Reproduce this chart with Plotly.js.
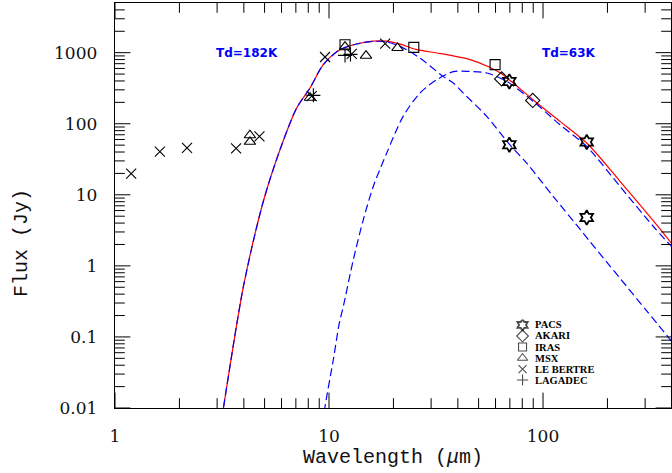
<!DOCTYPE html>
<html>
<head>
<meta charset="utf-8">
<script src="https://cdn.plot.ly/plotly-3.0.1.min.js"></script>
<style>
html,body{margin:0;padding:0;background:#fff;}
#chart{width:672px;height:473px;}
</style>
</head>
<body>
<div id="chart"></div>
<script>
// ---- Model curves ----
var hotX  = [3.15, 3.21, 3.98, 4.93, 5.90, 7.06, 8.15, 9.40, 11.25, 13.47, 16.1, 18.6, 21.5, 26.6, 34.1, 38.1, 42.4, 54.6, 68.9, 83.9, 111.7, 148.9, 165.9, 198.5, 229, 305, 400];
var hotY  = [0.007, 0.01, 0.51, 8.05, 43, 166, 318, 678, 1102, 1326, 1443, 1415, 1227, 841, 464, 374, 270, 127, 53.5, 27.9, 9.46, 3.28, 2.19, 1.13, 0.67, 0.233, 0.086];

var coldX = [9.4, 9.58, 10.47, 11.17, 11.66, 12.99, 14.46, 16.1, 18.6, 22.2, 26.6, 31.9, 38.1, 45.6, 54.6, 67.7, 90.1, 120, 160, 229, 328, 400];
var coldY = [0.006, 0.0104, 0.0474, 0.156, 0.267, 1.22, 4.45, 13.1, 38.6, 127, 270, 417, 540, 545, 518, 394, 206, 96.8, 47.9, 13.1, 3.58, 1.85];

var totX  = [3.15, 3.21, 3.98, 4.93, 5.90, 7.06, 8.15, 9.40, 11.25, 13.47, 16.1, 18.6, 21.5, 25.5, 31.9, 38.1, 45.6, 54.6, 63, 72.5, 89.7, 120, 160, 229, 328, 400];
var totY  = [0.007, 0.01, 0.51, 8.05, 43, 166, 318, 678, 1102, 1326, 1456, 1454, 1320, 1110, 990, 900, 800, 650, 520, 375, 218, 108, 53.5, 15.5, 4.3, 2.05];

// ---- Photometry ----
var pacsX = [69.6, 69.6, 160, 160];
var pacsY = [394, 50.6, 55.2, 4.79];
var akariX = [64.1, 89.5];
var akariY = [427, 213];
var irasX = [11.88, 24.9, 59.7];
var irasY = [1290, 1188, 678];
var msxX = [4.27, 4.27, 8.15, 11.88, 14.89, 20.9];
var msxY = [68.9, 55.7, 232, 1220, 907, 1165];
var lebX = [1.19, 1.62, 2.17, 3.68, 4.73, 8.3, 9.58, 12.77, 18.3];
var lebY = [19.8, 40.4, 45.9, 44.9, 66.2, 245, 869, 959, 1339];
var lagX = [8.45, 11.88, 12.6];
var lagY = [251, 916, 945];

// ---- Labels ----
var legendNames = ["PACS", "AKARI", "IRAS", "MSX", "LE BERTRE", "LAGADEC"];
var legendSymbols = ["hexagram-open", "diamond-open", "square-open", "triangle-up-open", "x-thin-open", "cross-thin-open"];
var legendRows = [5, 4, 3, 2, 1, 0];
var xTickVals = [1, 10, 100];
var xTickText = ["1", "10", "100"];
var yTickVals = [0.01, 0.1, 1, 10, 100, 1000];
var yTickText = ["0.01", "0.1", "1", "10", "100", "1000"];
var tempLabels = ["Td=182K", "Td=63K"];
var tempLabelX = [4.14, 132];
var tempLabelY = [1000, 1000];

var xRange = [0, 2.598];
var yRange = [-2, Math.log10(5000)];
var xMin = Math.pow(10, xRange[0]), xMax = Math.pow(10, xRange[1]);
var yMin = Math.pow(10, yRange[0]), yMax = Math.pow(10, yRange[1]);

function minorTicks(lo, hi, maxVal) {
  var v = [];
  for (var d = lo; d <= hi; d++) {
    for (var k = 2; k <= 9; k++) {
      var t = k * Math.pow(10, d);
      if (t < maxVal) v.push(t);
    }
  }
  return v;
}
var xMinor = minorTicks(0, 2, xMax);
var yMinor = minorTicks(-2, 3, yMax);

var blk = '#000';
function mk(sym, size, w) {
  return {symbol: sym, size: size, color: blk, line: {color: blk, width: w}};
}
var curveShape = {shape: 'spline', smoothing: 0.8};

// tick marks drawn as clipped line markers sitting on the frame edges
function tickTrace(vals, isX, len) {
  var xs = [], ys = [];
  vals.forEach(function(v) {
    if (isX) { xs.push(v, v); ys.push(yMin, yMax); }
    else { xs.push(xMin, xMax); ys.push(v, v); }
  });
  return {x: xs, y: ys, mode: 'markers', cliponaxis: true, hoverinfo: 'skip',
          marker: {symbol: isX ? 'line-ns' : 'line-ew', size: 2 * len, color: blk, line: {color: blk, width: 1}}};
}

var traces = [
  {x: totX, y: totY, mode: 'lines', line: Object.assign({color: '#ff0000', width: 1.2}, curveShape)},
  {x: hotX, y: hotY, mode: 'lines', line: Object.assign({color: '#0000ff', width: 1.2, dash: '8px,4px'}, curveShape)},
  {x: coldX, y: coldY, mode: 'lines', line: Object.assign({color: '#0000ff', width: 1.2, dash: '8px,4px'}, curveShape)},
  {x: pacsX, y: pacsY, mode: 'markers', marker: mk('hexagram-open', 11, 1.8)},
  {x: akariX, y: akariY, mode: 'markers', marker: mk('diamond-open', 11, 1.1)},
  {x: irasX, y: irasY, mode: 'markers', marker: mk('square-open', 10, 1.1)},
  {x: msxX, y: msxY, mode: 'markers', marker: mk('triangle-up-open', 10, 1.1)},
  {x: lebX, y: lebY, mode: 'markers', marker: mk('x-thin-open', 10, 1.1)},
  {x: lagX, y: lagY, mode: 'markers', marker: mk('cross-thin-open', 10, 1.1)},
  tickTrace(xTickVals, true, 11),
  tickTrace(xMinor, true, 7),
  tickTrace(yTickVals, false, 11),
  tickTrace(yMinor, false, 7),
  // legend key symbols on a small helper axis
  {x: legendRows.map(function(){return 0;}), y: legendRows, xaxis: 'x2', yaxis: 'y2', mode: 'markers',
   marker: {symbol: legendSymbols, size: [9, 9, 8, 9, 8, 8], color: blk, line: {color: blk, width: [1.8, 1.1, 1.1, 1.1, 1.1, 1.1]}}}
];

var axisCommon = {
  type: 'log', ticks: '', showline: true, linecolor: blk, linewidth: 1.3, mirror: true,
  showgrid: false, zeroline: false,
  tickfont: {family: 'DejaVu Serif', size: 17, color: '#111'}
};

var layout = {
  width: 672, height: 473,
  margin: {l: 115, r: 1, t: 3, b: 65},
  paper_bgcolor: '#fff', plot_bgcolor: '#fff',
  showlegend: false,
  xaxis: Object.assign({}, axisCommon, {
    range: xRange, tickmode: 'array', tickvals: xTickVals, ticktext: xTickText, ticklabelstandoff: 12
  }),
  yaxis: Object.assign({}, axisCommon, {
    range: yRange, tickmode: 'array', tickvals: yTickVals, ticktext: yTickText, ticklabelstandoff: 13
  }),
  xaxis2: {domain: [0.713, 0.753], range: [-1, 1], visible: false, anchor: 'y2', fixedrange: true},
  yaxis2: {domain: [0.0554, 0.2186], range: [-0.5, 5.5], visible: false, anchor: 'x2', fixedrange: true},
  annotations: [
    {xref: 'paper', yref: 'paper', x: 0.5, y: -0.121, text: 'Wavelength (<i>μ</i>m)', showarrow: false,
     xanchor: 'center', yanchor: 'middle', font: {family: 'Liberation Mono', size: 20, color: '#111'}},
    {xref: 'paper', yref: 'paper', x: -0.167, y: 0.408, text: 'Flux (Jy)', showarrow: false, textangle: -90,
     xanchor: 'center', yanchor: 'middle', font: {family: 'Liberation Mono', size: 20, color: '#111'}}
  ]
};

tempLabels.forEach(function(t, i) {
  layout.annotations.push({
    xref: 'x', yref: 'y', x: Math.log10(tempLabelX[i]), y: Math.log10(tempLabelY[i]), text: t, showarrow: false,
    xanchor: 'center', yanchor: 'middle', font: {family: 'DejaVu Sans', size: 12, color: '#0000ff', weight: 'bold'}
  });
});

legendNames.forEach(function(n, i) {
  layout.annotations.push({
    xref: 'x2', yref: 'y2', x: 0.9, y: legendRows[i], text: '<b>' + n + '</b>', showarrow: false,
    xanchor: 'left', yanchor: 'middle', font: {family: 'Liberation Serif', size: 10.5, color: '#000'}
  });
});

Plotly.newPlot('chart', traces, layout, {staticPlot: true, displayModeBar: false});
</script>
</body>
</html>
